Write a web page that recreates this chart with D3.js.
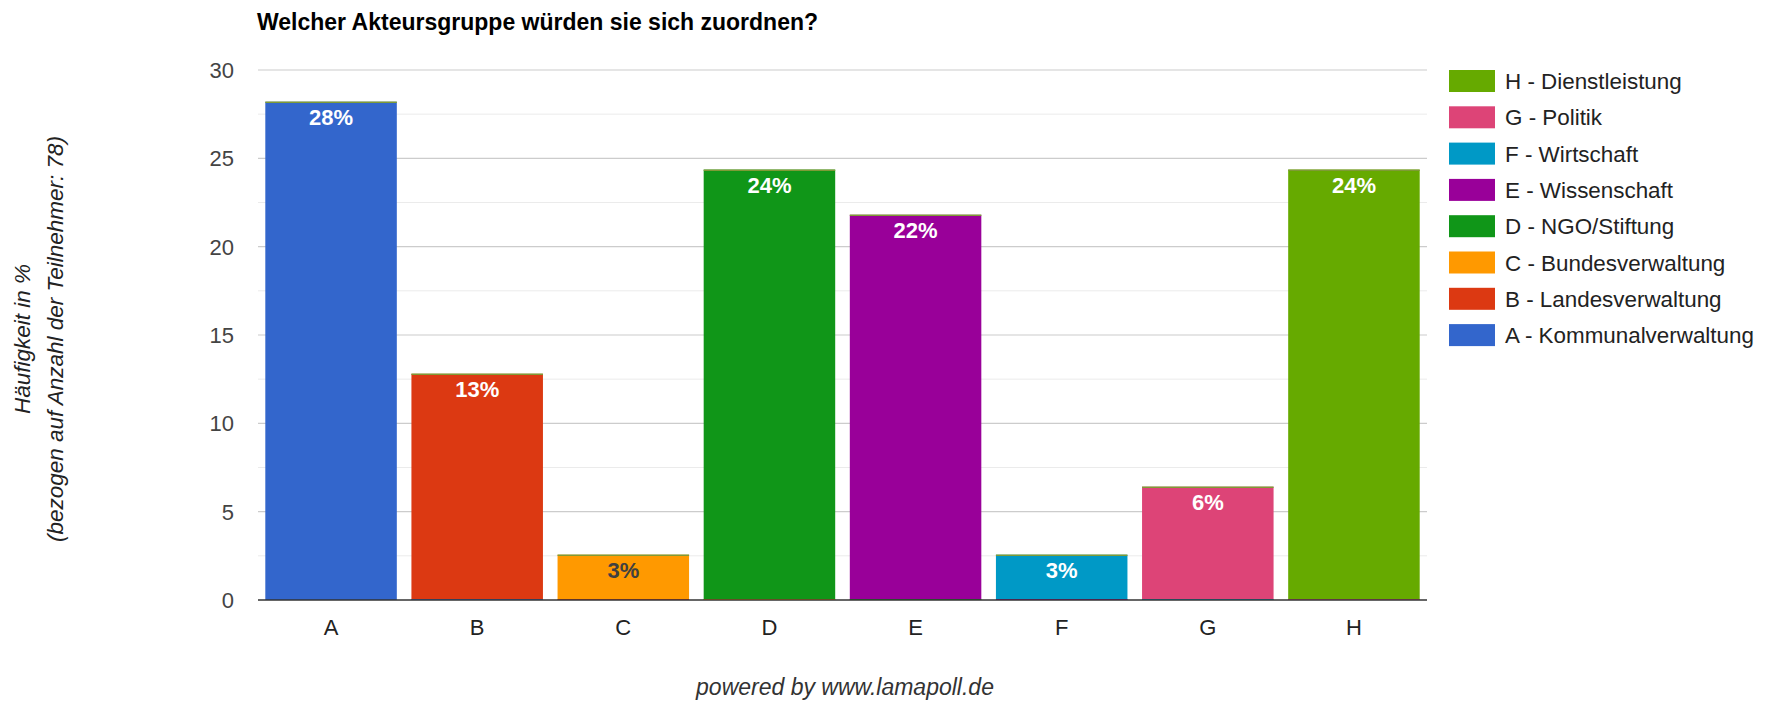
<!DOCTYPE html>
<html>
<head>
<meta charset="utf-8">
<script src="https://cdn.jsdelivr.net/npm/d3@7/dist/d3.min.js"></script>
<style>
  body { margin: 0; background: #fff; }
  text { font-family: "Liberation Sans", Arial, sans-serif; }
</style>
</head>
<body>
<div id="chart"></div>
<script>
"use strict";
// categories and values (percent of 78 participants)
var categories = ["A", "B", "C", "D", "E", "F", "G", "H"];
var seriesNames = ["A - Kommunalverwaltung", "B - Landesverwaltung", "C - Bundesverwaltung",
  "D - NGO/Stiftung", "E - Wissenschaft", "F - Wirtschaft", "G - Politik", "H - Dienstleistung"];
var values = [28.2, 12.8, 2.56, 24.36, 21.8, 2.56, 6.41, 24.36];
var labels = ["28%", "13%", "3%", "24%", "22%", "3%", "6%", "24%"];
var colors = ["#3366cc", "#dc3912", "#ff9900", "#109618", "#990099", "#0099c6", "#dd4477", "#66aa00"];
var yTicks = [0, 5, 10, 15, 20, 25, 30];
var yMinor = [2.5, 7.5, 12.5, 17.5, 22.5, 27.5];

var W = 1773, H = 702;
var m = { left: 258, right: 1427, top: 70, bottom: 600 };

var svg = d3.select("#chart").append("svg").attr("width", W).attr("height", H);

var x = d3.scaleBand().domain(categories).range([m.left, m.right]).paddingInner(0.1).paddingOuter(0.05);
var y = d3.scaleLinear().domain([0, 30]).range([m.bottom, m.top]);

// title
svg.append("text").attr("x", 257).attr("y", 30)
  .style("font-size", "23px").style("font-weight", "bold").attr("fill", "#000")
  .text("Welcher Akteursgruppe würden sie sich zuordnen?");

// gridlines, minor first
svg.append("g").selectAll("line").data(yMinor).enter().append("line")
  .attr("x1", m.left).attr("x2", m.right)
  .attr("y1", function (d) { return y(d); }).attr("y2", function (d) { return y(d); })
  .attr("stroke", "#ebebeb").attr("stroke-width", 1);
svg.append("g").selectAll("line").data(yTicks.slice(1)).enter().append("line")
  .attr("x1", m.left).attr("x2", m.right)
  .attr("y1", function (d) { return y(d); }).attr("y2", function (d) { return y(d); })
  .attr("stroke", "#cccccc").attr("stroke-width", 1.2);

// y tick labels
svg.append("g").selectAll("text").data(yTicks).enter().append("text")
  .attr("x", 234).attr("y", function (d) { return y(d) + 8; })
  .attr("text-anchor", "end").style("font-size", "22px").attr("fill", "#444")
  .text(function (d) { return d; });

// bars
var bars = svg.append("g");
bars.selectAll("rect").data(values).enter().append("rect")
  .attr("x", function (d, i) { return x(categories[i]); })
  .attr("y", function (d) { return y(d); })
  .attr("width", x.bandwidth())
  .attr("height", function (d) { return y(0) - y(d); })
  .attr("fill", function (d, i) { return colors[i]; });
// thin stacked zero-series line at the top of each bar
bars.selectAll("line.top").data(values).enter().append("line").attr("class", "top")
  .attr("x1", function (d, i) { return x(categories[i]); })
  .attr("x2", function (d, i) { return x(categories[i]) + x.bandwidth(); })
  .attr("y1", function (d) { return y(d) + 0.5; }).attr("y2", function (d) { return y(d) + 0.5; })
  .attr("stroke", "#7f9a36").attr("stroke-width", 1.5);

// axis baseline
svg.append("line").attr("x1", m.left).attr("x2", m.right)
  .attr("y1", y(0)).attr("y2", y(0)).attr("stroke", "#333").attr("stroke-width", 1.5);
// zero-height segment of the previous series under each bar
bars.selectAll("line.bottom").data(values.slice(1)).enter().append("line").attr("class", "bottom")
  .attr("x1", function (d, i) { return x(categories[i + 1]); })
  .attr("x2", function (d, i) { return x(categories[i + 1]) + x.bandwidth(); })
  .attr("y1", y(0) - 0.5).attr("y2", y(0) - 0.5)
  .attr("stroke", function (d, i) { return colors[i]; }).attr("stroke-width", 1);

// value labels
svg.append("g").selectAll("text").data(values).enter().append("text")
  .attr("x", function (d, i) { return x(categories[i]) + x.bandwidth() / 2; })
  .attr("y", function (d) { return y(d) + 23; })
  .attr("text-anchor", "middle").style("font-size", "22px").style("font-weight", "bold")
  .attr("fill", function (d, i) { return i === 2 ? "#404040" : "#fff"; })
  .text(function (d, i) { return labels[i]; });

// x labels
svg.append("g").selectAll("text").data(categories).enter().append("text")
  .attr("x", function (d) { return x(d) + x.bandwidth() / 2; })
  .attr("y", 635).attr("text-anchor", "middle")
  .style("font-size", "22px").attr("fill", "#222")
  .text(function (d) { return d; });

// y axis title
var yt = svg.append("text").attr("transform", "translate(0,339) rotate(-90)")
  .attr("text-anchor", "middle").style("font-size", "22.5px").style("font-style", "italic").attr("fill", "#222");
yt.append("tspan").attr("x", 0).attr("y", 30).text("Häufigkeit in %");
yt.append("tspan").attr("x", 0).attr("y", 63).text("(bezogen auf Anzahl der Teilnehmer: 78)");

// legend, top entry is H
var legend = svg.append("g").selectAll("g").data(d3.range(categories.length).reverse()).enter().append("g")
  .attr("transform", function (d, k) { return "translate(1449," + (70 + k * 36.3) + ")"; });
legend.append("rect").attr("width", 46).attr("height", 22)
  .attr("fill", function (d) { return colors[d]; });
legend.append("text").attr("x", 56).attr("y", 19).style("font-size", "22.4px").attr("fill", "#222")
  .text(function (d) { return seriesNames[d]; });

// footer
svg.append("text").attr("x", 845).attr("y", 695).attr("text-anchor", "middle")
  .style("font-size", "23px").style("font-style", "italic").attr("fill", "#333")
  .text("powered by www.lamapoll.de");
</script>
</body>
</html>
